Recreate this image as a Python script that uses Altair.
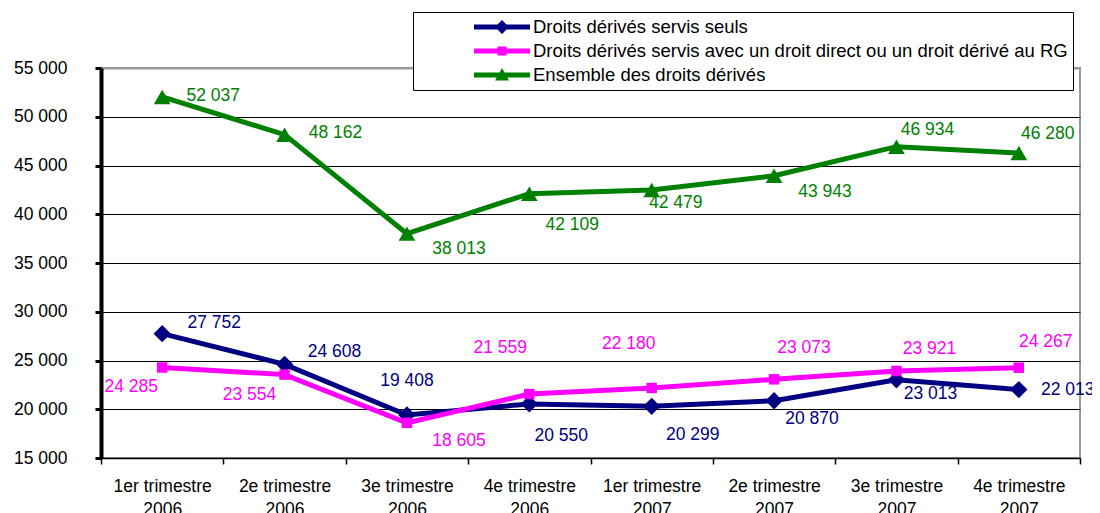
import altair as alt
import pandas as pd

categories = ["1er trimestre|2006", "2e trimestre|2006", "3e trimestre|2006", "4e trimestre|2006",
              "1er trimestre|2007", "2e trimestre|2007", "3e trimestre|2007", "4e trimestre|2007"]

series_names = [
    "Droits dérivés servis seuls",
    "Droits dérivés servis avec un droit direct ou un droit dérivé au RG",
    "Ensemble des droits dérivés",
]
seuls = [27752, 24608, 19408, 20550, 20299, 20870, 23013, 22013]
avec = [24285, 23554, 18605, 21559, 22180, 23073, 23921, 24267]
ensemble = [52037, 48162, 38013, 42109, 42479, 43943, 46934, 46280]
y_ticks = [15000, 20000, 25000, 30000, 35000, 40000, 45000, 50000, 55000]

colors = ["#000080", "#FF00FF", "#008000"]
shapes = ["diamond", "square", "triangle-up"]
sizes = [300, 110, 280]

# label placement offsets (pixels) per point, as in the original chart
label_dx = [
    [52, 50, 0, 32, 41, 38, 34, 49],
    [-31, -35, 52, -29, -23, 30, 33, 27],
    [51, 51, 52, 43, 24, 51, 31, 29],
]
label_dy = [
    [-11, -12, -34, 32, 29, 18, 14, 0],
    [20, 20, 18, -46, -44, -31, -22, -26],
    [-1, -2, 15, 31, 13, 16, -17, -19],
]

# legend symbols: a line with the series marker (units of 10 px, symbol box is [-1,1])
legend_paths = [
    "M-1,-0.25H4.6V0.25H-1Z M1.8,-0.7L2.5,0L1.8,0.7L1.1,0Z",
    "M-1,-0.25H4.6V0.25H-1Z M1.35,-0.45H2.25V0.45H1.35Z",
    "M-1,-0.25H4.6V0.25H-1Z M1.8,-0.7L2.5,0.55L1.1,0.55Z",
]

rows = []
for s, vals in zip(series_names, [seuls, avec, ensemble]):
    for c, v in zip(categories, vals):
        rows.append({"cat": c, "series": s, "value": v,
                     "label": f"{v:,}".replace(",", " ")})
df = pd.DataFrame(rows)

FONT = "Liberation Sans"

x_enc = alt.X("cat:N", sort=categories,
              scale=alt.Scale(domain=categories, paddingInner=0, paddingOuter=0),
              axis=alt.Axis(title=None, labelExpr="split(datum.label, '|')", labelAngle=0,
                            tickBand="extent", domainColor="black", domainWidth=1.5,
                            tickColor="black", tickWidth=1.5, tickSize=6, labelPadding=13,
                            labelFontSize=17.5, labelLineHeight=23, labelColor="black",
                            labelFont=FONT, grid=False))
y_enc = alt.Y("value:Q",
              scale=alt.Scale(domain=[15000, 55000], nice=False, zero=False),
              axis=alt.Axis(title=None, values=y_ticks,
                            labelExpr="replace(format(datum.value, ','), ',', ' ')",
                            domainColor="black", domainWidth=4, tickColor="black",
                            tickWidth=3, tickSize=6, labelPadding=28, labelFontSize=17.5,
                            labelColor="black", labelFont=FONT, grid=True,
                            gridColor=alt.condition("datum.value == 55000", alt.value("#999999"), alt.value("black")),
                            gridWidth=alt.condition("datum.value == 55000", alt.value(2), alt.value(1))))

base = alt.Chart(df)
layers = []
for i, s in enumerate(series_names):
    sub = base.transform_filter(alt.datum.series == s)
    layers.append(sub.mark_line(color=colors[i], strokeWidth=5).encode(x=x_enc, y=y_enc))
for i, s in enumerate(series_names):
    sub = base.transform_filter(alt.datum.series == s)
    layers.append(sub.mark_point(shape=shapes[i], size=sizes[i], filled=True,
                                 color=colors[i], opacity=1).encode(x=x_enc, y=y_enc))
for i, s in enumerate(series_names):
    for j, c in enumerate(categories):
        pt = base.transform_filter((alt.datum.series == s) & (alt.datum.cat == c))
        layers.append(pt.mark_text(color=colors[i], font=FONT, fontSize=17.5,
                                   align="center", baseline="middle",
                                   dx=label_dx[i][j], dy=label_dy[i][j]).encode(
            x=x_enc, y=y_enc, text="label:N"))

legend_props = dict(title=None, orient="none", legendX=312, legendY=-56,
                    strokeColor="black", fillColor="white", padding=5,
                    symbolOffset=56, symbolSize=400, symbolStrokeWidth=0,
                    labelFontSize=18.5, labelFont=FONT, labelColor="black",
                    labelLimit=1000, labelOffset=39, rowPadding=4, symbolOpacity=1)

legend_layer = base.transform_filter("false").mark_point(filled=True, opacity=1).encode(
    x=x_enc, y=y_enc,
    color=alt.Color("series:N", scale=alt.Scale(domain=series_names, range=colors),
                    legend=alt.Legend(**legend_props)),
    shape=alt.Shape("series:N", scale=alt.Scale(domain=series_names, range=legend_paths),
                    legend=alt.Legend(**legend_props)),
)
layers.append(legend_layer)

chart = alt.layer(*layers).properties(
    width=979, height=390,
    padding={"left": 93, "top": 60, "right": 12, "bottom": 62},
    autosize=alt.AutoSizeParams(type="none"),
    background="white",
).configure_view(stroke="#999999", strokeWidth=2)

chart.save("out.html", embed_options={"renderer": "svg", "actions": False})
